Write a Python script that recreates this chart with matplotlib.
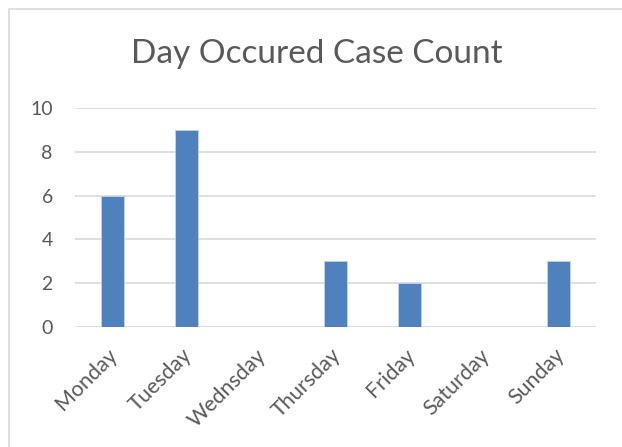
import matplotlib
matplotlib.use("Agg")
import matplotlib.pyplot as plt
from matplotlib.patches import Rectangle
from matplotlib.transforms import ScaledTranslation

days = ['Monday', 'Tuesday', 'Wednsday', 'Thursday', 'Friday', 'Saturday', 'Sunday']
counts = [6, 9, 0, 3, 2, 0, 3]
yticks = [0, 2, 4, 6, 8, 10]

plt.rcParams['font.family'] = ['Lato', 'DejaVu Sans']
text_color = '#595959'

fig = plt.figure(figsize=(6.22, 4.47), dpi=100)
ax = fig.add_axes([75 / 622, 1 - 327 / 447, 521 / 622, 219 / 447])

# chart border (right/bottom cut off in the reference)
fig.patches.append(Rectangle((9 / 622, -0.1), 1.2, 1 - 9 / 447 + 0.1,
                             transform=fig.transFigure, fill=False,
                             edgecolor='#d9d9d9', linewidth=1.2))

x = range(len(days))
ax.bar(x, counts, width=0.31, color='#4f81bd', edgecolor='#c5d3e8', linewidth=0.6, zorder=3)

ax.set_xlim(-0.5, len(days) - 0.5)
ax.set_ylim(0, 10)
ax.set_yticks(yticks)
ax.set_xticks(list(x))
ax.set_xticklabels(days, rotation=45, ha='right', rotation_mode='anchor')
ax.tick_params(axis='both', length=0, colors=text_color)
ax.tick_params(axis='y', pad=16, labelsize=14)
ax.tick_params(axis='x', pad=13, labelsize=15.5)
ax.grid(axis='y', color='#d9d9d9', linewidth=1.2, zorder=0)
for s in ax.spines.values():
    s.set_visible(False)

# nudge rotated day labels slightly left, like the Excel layout
shift = ScaledTranslation(-5 / 100, 0, fig.dpi_scale_trans)
for lbl in ax.get_xticklabels():
    lbl.set_transform(lbl.get_transform() + shift)

fig.text(317 / 622, 1 - 54 / 447, 'Day Occured Case Count', ha='center', va='center',
         fontsize=24, color=text_color)

fig.savefig('out.png', dpi=100)
